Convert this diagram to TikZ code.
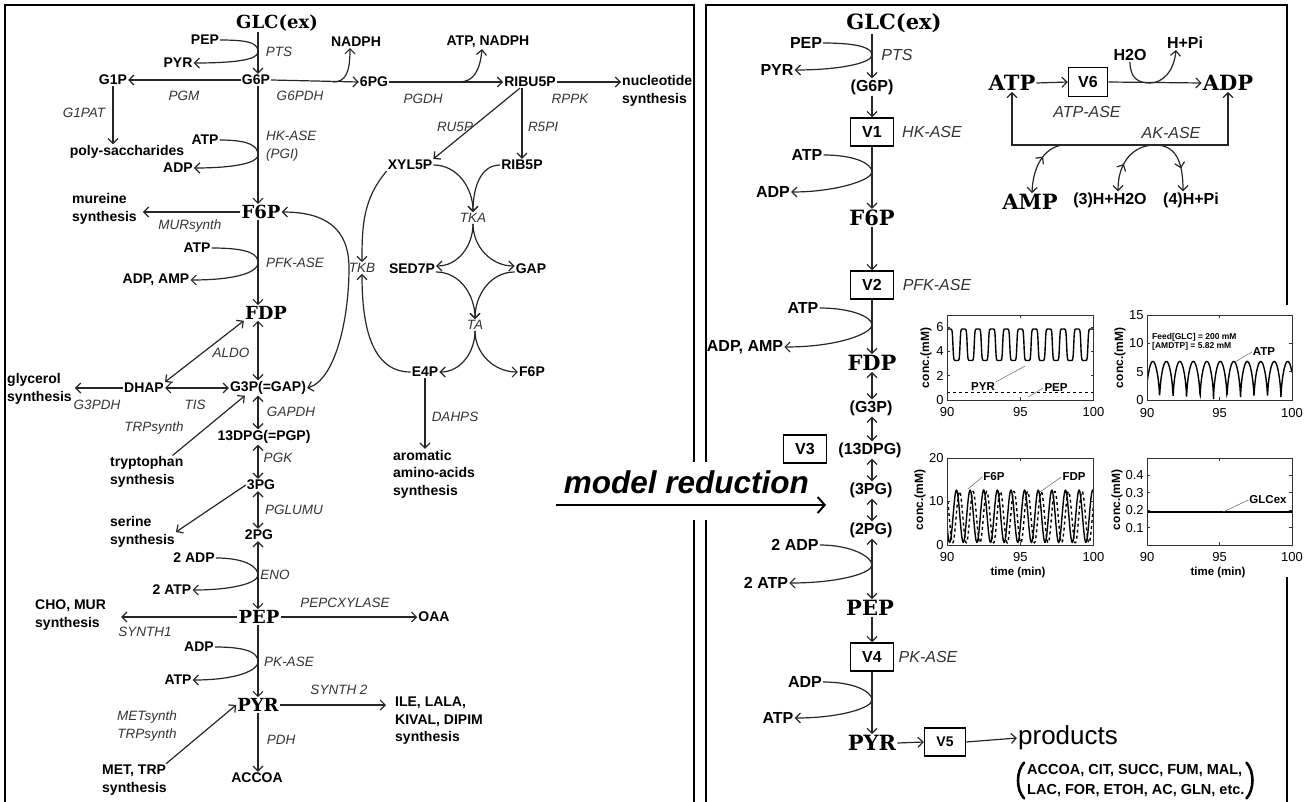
\documentclass[tikz,border=0pt]{standalone}
\usepackage{fontspec}
\setmainfont{Liberation Sans}
\newfontfamily\slab{DejaVu Serif}
\usetikzlibrary{arrows.meta,decorations.markings}
\tikzset{
 ln/.style={line width=1.2pt, draw=black!85},
 arr/.style={ln, -{Straight Barb[length=5pt,width=10pt]}},
 darr/.style={ln, {Straight Barb[length=5pt,width=10pt]}-{Straight Barb[length=5pt,width=10pt]}},
 lb/.style={font=\fontsize{14}{17.5}\selectfont\bfseries, inner sep=1pt, align=center},
 en/.style={font=\fontsize{13.5}{17.5}\selectfont\itshape, text=black!80, inner sep=1pt, align=left},
 big/.style={font=\fontsize{18}{20}\selectfont\slab\bfseries, inner sep=1pt},
 rlb/.style={font=\fontsize{16}{19}\selectfont\bfseries, inner sep=1pt},
 ren/.style={font=\fontsize{16}{19}\selectfont\itshape, text=black!80, inner sep=1pt},
 rbig/.style={font=\fontsize{21}{24}\selectfont\slab\bfseries, inner sep=1pt},
 vbox/.style={draw, line width=1.5pt, font=\fontsize{16}{19}\selectfont\bfseries, minimum width=43pt, minimum height=28pt, inner sep=0pt},
 frame/.style={line width=2pt},
 axis/.style={line width=0.7pt, draw=black!80},
 curve/.style={line width=1.4pt},
 tk/.style={font=\fontsize{13}{15}\selectfont, inner sep=1pt},
 yl/.style={font=\fontsize{12}{14}\selectfont\bfseries, inner sep=1pt, rotate=90},
 pl/.style={font=\fontsize{11.5}{13}\selectfont\bfseries, inner sep=1pt},
 pll/.style={line width=0.5pt, draw=black!60},
 plst/.style={font=\fontsize{14.5}{16}\selectfont\bfseries, inner sep=0pt, anchor=west},
 parenline/.style={line width=2.6pt, line cap=round},
}
\begin{document}
\begin{tikzpicture}[x=1pt,y=-1pt]
\useasboundingbox (0,0) rectangle (1311,802);
% ---------- frames
\draw[frame] (5,802) -- (5,5) -- (694,5) -- (694,462);
\draw[frame] (694,520) -- (694,802);
\draw[frame] (706,462) -- (706,5) -- (1287,5) -- (1287,305);
\draw[frame] (706,520) -- (706,802);
\draw[frame] (1287,577) -- (1287,802);

% ================= LEFT PANEL =================
\coordinate (cl) at (258,0);
\node[big] (glc1) at (277,23) {GLC(ex)};
\node[lb] (pep1) at (205,40) {PEP};
\node[lb] (pyr1) at (178,63) {PYR};
\node[en] (pts1) at (279,52) {PTS};
\node[lb] (g6p) at (256,80) {G6P};
\node[lb] (g1p) at (113,80) {G1P};
\node[en] (pgm) at (184,96) {PGM};
\node[en] (g6pdh) at (300,96) {G6PDH};
\node[lb] (nadph1) at (356,42) {NADPH};
\node[lb] (pg6) at (374,82) {6PG};
\node[lb] (atpnadph) at (488,42) {ATP, NADPH};
\node[en] (pgdh) at (423,99) {PGDH};
\node[lb] (ribu) at (530,82) {RIBU5P};
\node[en] (rppk) at (570,99) {RPPK};
\node[lb, align=left, anchor=west] (nucl) at (621,91) {nucleotide\\synthesis};
\node[en] (ru5p) at (455,127) {RU5P};
\node[en] (r5pi) at (543,127) {R5PI};
\node[lb] (xyl) at (410,165) {XYL5P};
\node[lb] (rib) at (522,165) {RIB5P};
\node[en] (tka) at (473,218) {TKA};
\node[en] (tkb) at (362,268) {TKB};
\node[lb] (sed) at (412,269) {SED7P};
\node[lb] (gapr) at (531,269) {GAP};
\node[en] (ta) at (475,325) {TA};
\node[lb] (e4p) at (425,372) {E4P};
\node[lb] (f6pr) at (532,372) {F6P};
\node[en] (dahps) at (455,417) {DAHPS};
\node[lb, align=left, anchor=west] (arom) at (392,474) {aromatic\\amino-acids\\synthesis};

\node[en] (g1pat) at (84,113) {G1PAT};
\node[lb] (poly) at (127,152) {poly-saccharides};
\node[lb] (atp1) at (205,140) {ATP};
\node[lb] (adp1) at (178,168) {ADP};
\node[en, anchor=west] (hkase) at (265,146) {HK-ASE\\(PGI)};
\node[lb, align=left, anchor=west] (mur) at (71,209) {mureine\\synthesis};
\node[en] (mursynth) at (190,226) {MURsynth};
\node[big] (f6p) at (261,212) {F6P};
\node[lb] (atp2) at (197,248) {ATP};
\node[lb] (adpamp) at (156,280) {ADP, AMP};
\node[en] (pfk) at (295,263) {PFK-ASE};
\node[big] (fdp) at (266,313) {FDP};
\node[en] (aldo) at (231,353) {ALDO};
\node[lb, align=left, anchor=west] (glyc) at (6,389) {glycerol\\synthesis};
\node[lb] (dhap) at (144,388) {DHAP};
\node[en] (g3pdh) at (97,405) {G3PDH};
\node[en] (tis) at (195,405) {TIS};
\node[lb] (g3p) at (268,388) {G3P(=GAP)};
\node[en] (gapdh) at (291,412) {GAPDH};
\node[en] (trpsynth) at (154,428) {TRPsynth};
\node[lb, align=left, anchor=west] (tryp) at (109,472) {tryptophan\\synthesis};
\node[lb] (dpg) at (264,437) {13DPG(=PGP)};
\node[en] (pgk) at (278,458) {PGK};
\node[lb] (pg3) at (261,485) {3PG};
\node[lb, align=left, anchor=west] (ser) at (109,532) {serine\\synthesis};
\node[en] (pglumu) at (294,510) {PGLUMU};
\node[lb] (pg2) at (259,535) {2PG};
\node[lb] (adp2) at (194,558) {2 ADP};
\node[lb] (atp3) at (172,590) {2 ATP};
\node[en] (eno) at (275,575) {ENO};
\node[big] (pep) at (259,617) {PEP};
\node[lb, align=left, anchor=west] (cho) at (34,615) {CHO, MUR\\synthesis};
\node[en] (synth1) at (145,632) {SYNTH1};
\node[en] (pepc) at (345,603) {PEPCXYLASE};
\node[lb] (oaa) at (434,617) {OAA};
\node[lb] (adp3) at (199,647) {ADP};
\node[lb] (atp4) at (178,680) {ATP};
\node[en] (pkase) at (289,662) {PK-ASE};
\node[big] (pyr) at (258,705) {PYR};
\node[en] (synth2) at (339,690) {SYNTH 2};
\node[lb, align=left, anchor=west] (ile) at (394,721) {ILE, LALA,\\KIVAL, DIPIM\\synthesis};
\node[en] (pdh) at (281,740) {PDH};
\node[lb] (accoa) at (257,778) {ACCOA};
\node[lb, align=left, anchor=west] (met) at (101,780) {MET, TRP\\synthesis};
\node[en, align=center] (metsynth) at (147,726) {METsynth\\TRPsynth};

% left edges
\draw[arr] (glc1.south -| cl) -- (g6p.north -| cl);
\draw[arr] (pep1.east) .. controls +(32,0) and +(0,-8) .. (258,52) .. controls +(0,8) and +(40,0) .. (pyr1.east);
\draw[arr] (g6p.west) -- (g1p.east);
\draw[arr] (g6p.east) -- (pg6.west);
\coordinate (b1) at (333,82);
\draw[arr] (b1) .. controls (346,82) and (350,72) .. ([xshift=-6pt]nadph1.south);
\draw[arr] (pg6.east) -- (ribu.west);
\coordinate (b2) at (459,82);
\draw[arr] (b2) .. controls (474,82) and (480,70) .. ([xshift=-6pt]atpnadph.south);
\draw[arr] (ribu.east) -- (ribu.east -| nucl.west);
\draw[arr] ([xshift=-10pt]ribu.south) -- (xyl.north east);
\draw[arr] (ribu.south -| rib.north) -- (rib.north);
\draw[arr] (xyl.east) to[out=0,in=90] (tka.north);
\draw[arr] (rib.west) to[out=180,in=90] (tka.north);
\draw[arr] (tka.south) to[out=-90,in=0] ([yshift=3pt]sed.east);
\draw[arr] (tka.south) to[out=-90,in=180] ([yshift=3pt]gapr.west);
\draw[arr] ([yshift=-3pt]sed.east) to[out=0,in=90] (ta.north);
\draw[arr] ([yshift=-3pt]gapr.west) to[out=180,in=90] (ta.north);
\draw[arr] (ta.south) to[out=-90,in=0] (e4p.east);
\draw[arr] (ta.south) to[out=-90,in=180] (f6pr.west);
\draw[arr] (e4p.south) -- (e4p.south |- arom.north);
\draw[arr] (e4p.west) to[out=180,in=-90] (tkb.south);
\draw[arr] (xyl.south west) to[out=-130,in=90] (tkb.north);
\draw[darr] (f6p.east) .. controls (325,212) and (349,228) .. (349,268) .. controls (349,320) and (335,380) .. (g3p.east);

\draw[arr] (g6p.south -| cl) -- (f6p.north -| cl);
\draw[arr] (atp1.east) .. controls +(32,0) and +(0,-8) .. (258,155) .. controls +(0,8) and +(40,0) .. (adp1.east);
\draw[arr] (g1p.south) -- (g1p.south |- poly.north);
\draw[arr] (f6p.west) -- ([xshift=5pt]f6p.west -| mur.east);
\draw[arr] (f6p.south -| cl) -- (fdp.north -| cl);
\draw[arr] (atp2.east) .. controls +(40,0) and +(0,-8) .. (258,263) .. controls +(0,8) and +(50,0) .. (adpamp.east);
\draw[darr] (fdp.south -| cl) -- (g3p.north -| cl);
\draw[darr] (dhap.north east) -- (fdp.south west);
\draw[arr] (dhap.west) -- ([xshift=2pt]dhap.west -| glyc.east);
\draw[darr] (dhap.east) -- (g3p.west);
\draw[darr] (g3p.south -| cl) -- (dpg.north -| cl);
\draw[arr] ([xshift=-12pt]tryp.north east) -- ([xshift=16pt]g3p.south west);
\draw[darr] (dpg.south -| cl) -- (pg3.north -| cl);
\draw[arr] (pg3.west) -- (ser.east);
\draw[darr] (pg3.south -| cl) -- (pg2.north -| cl);
\draw[darr] (pg2.south -| cl) -- (pep.north -| cl);
\draw[arr] (adp2.east) .. controls +(30,0) and +(0,-8) .. (258,575) .. controls +(0,8) and +(40,0) .. (atp3.east);
\draw[arr] (pep.west) -- ([xshift=14pt]pep.west -| cho.east);
\draw[arr] (pep.east) -- (oaa.west);
\draw[arr] (pep.south -| cl) -- (pyr.north -| cl);
\draw[arr] (adp3.east) .. controls +(36,0) and +(0,-8) .. (258,662) .. controls +(0,8) and +(45,0) .. (atp4.east);
\draw[arr] (pyr.east) -- ([xshift=-8pt]pyr.east -| ile.west);
\draw[arr] (pyr.south -| cl) -- (accoa.north -| cl);
\draw[arr] ([xshift=-2pt]met.north east) -- (pyr.west);

% ================= RIGHT PANEL =================
\coordinate (cr) at (872,0);
\node[rbig] (glc2) at (894,23) {GLC(ex)};
\node[rlb] (pep2) at (806,43) {PEP};
\node[rlb] (pyr2) at (777,70) {PYR};
\node[ren] (pts2) at (897,55) {PTS};
\node[rlb] (g6p2) at (872,87) {(G6P)};
\node[vbox] (v1) at (872,132) {V1};
\node[ren] (hk2) at (932,132) {HK-ASE};
\node[rlb] (atp5) at (807,155) {ATP};
\node[rlb] (adp5) at (773,192) {ADP};
\node[rbig] (f6p2) at (872,218) {F6P};
\node[vbox] (v2) at (872,285) {V2};
\node[ren] (pfk2) at (937,285) {PFK-ASE};
\node[rlb] (atp6) at (803,308) {ATP};
\node[rlb] (adpamp2) at (745,347) {ADP, AMP};
\node[rbig] (fdp2) at (872,363) {FDP};
\node[rlb] (g3p2) at (871,408) {(G3P)};
\node[rlb] (dpg2) at (870,450) {(13DPG)};
\node[vbox] (v3) at (805,449) {V3};
\node[rlb] (pg32) at (871,490) {(3PG)};
\node[rlb] (pg22) at (871,530) {(2PG)};
\node[rlb] (adp7) at (795,545) {2 ADP};
\node[rlb] (atp7) at (766,583) {2 ATP};
\node[rbig] (pep3) at (870,608) {PEP};
\node[vbox] (v4) at (872,657) {V4};
\node[ren] (pk2) at (928,657) {PK-ASE};
\node[rlb] (adp8) at (805,682) {ADP};
\node[rlb] (atp8) at (778,718) {ATP};
\node[rbig] (pyr3) at (872,743) {PYR};
\node[vbox, minimum width=41pt, font=\fontsize{14}{16}\selectfont\bfseries] (v5) at (945,742) {V5};
\node[font=\fontsize{26}{28}\selectfont, inner sep=1pt] (prod) at (1068,738) {products};
\node[plst] (plist1) at (1027,771) {ACCOA, CIT, SUCC, FUM, MAL,};
\node[plst] (plist2) at (1027,791) {LAC, FOR, ETOH, AC, GLN, etc.};
\draw[parenline] ([xshift=-3pt,yshift=2pt]plist1.north west) .. controls +(-8,9) and +(-8,-9) .. ([xshift=-3pt,yshift=-1pt]plist2.south west);
\draw[parenline] ([xshift=4pt,yshift=2pt]plist1.north east) .. controls +(8,9) and +(8,-9) .. ([xshift=4pt,yshift=-1pt]plist1.east |- plist2.south);

\draw[arr] (glc2.south -| cr) -- (g6p2.north -| cr);
\draw[arr] (pep2.east) .. controls +(32,0) and +(0,-8) .. (872,55) .. controls +(0,8) and +(45,0) .. (pyr2.east);
\draw[arr] (g6p2.south -| cr) -- (v1.north);
\draw[arr] (v1.south) -- (f6p2.north -| cr);
\draw[arr] (atp5.east) .. controls +(32,0) and +(0,-8) .. (872,172) .. controls +(0,8) and +(45,0) .. (adp5.east);
\draw[arr] (f6p2.south -| cr) -- (v2.north);
\draw[arr] (v2.south) -- (fdp2.north -| cr);
\draw[arr] (atp6.east) .. controls +(32,0) and +(0,-8) .. (872,325) .. controls +(0,8) and +(55,0) .. (adpamp2.east);
\draw[darr] (fdp2.south -| cr) -- (g3p2.north -| cr);
\draw[darr] (g3p2.south -| cr) -- (dpg2.north -| cr);
\draw[darr] (dpg2.south -| cr) -- (pg32.north -| cr);
\draw[darr] (pg32.south -| cr) -- (pg22.north -| cr);
\draw[darr] (pg22.south -| cr) -- (pep3.north -| cr);
\draw[arr] (adp7.east) .. controls +(32,0) and +(0,-8) .. (872,565) .. controls +(0,8) and +(50,0) .. (atp7.east);
\draw[arr] (pep3.south -| cr) -- (v4.north);
\draw[arr] (v4.south) -- (pyr3.north -| cr);
\draw[arr] (adp8.east) .. controls +(32,0) and +(0,-8) .. (872,700) .. controls +(0,8) and +(45,0) .. (atp8.east);
\draw[arr] (pyr3.east) -- (v5.west);
\draw[arr] (v5.east) -- (prod.west);

% ATP / ADP cycle
\node[rbig] (atpc) at (1012,83) {ATP};
\node[vbox, minimum width=39pt, minimum height=29pt] (v6) at (1088,82) {V6};
\node[rbig] (adpc) at (1228,83) {ADP};
\node[rlb] (h2o) at (1130,55) {H2O};
\node[rlb] (hpi) at (1185,43) {H+Pi};
\node[ren] (atpase) at (1087,112) {ATP-ASE};
\node[ren] (akase) at (1171,133) {AK-ASE};
\node[rbig] (amp) at (1030,202) {AMP};
\node[rlb] (h3) at (1110,200) {(3)H+H2O};
\node[rlb] (h4) at (1191,200) {(4)H+Pi};
\draw[arr] (atpc.east) -- (v6.west);
\draw[arr] (v6.east) -- (adpc.west);
\draw[arr] (h2o.south) .. controls (1130,78) and (1138,83) .. (1150,83) .. controls (1162,83) and (1174,72) .. ([xshift=-9pt]hpi.south);
\coordinate (ak) at (0,145);
\draw[darr] (atpc.south) -- (atpc.south |- ak) -- (adpc.south |- ak) -- (adpc.south);
\draw[ln, {Straight Barb[length=5pt,width=10pt]}-,
  postaction={decorate, decoration={markings, mark=at position 0.62 with {\arrow{Straight Barb[length=5pt,width=10pt]}}}}]
  ([xshift=2pt]amp.north) .. controls (1033,165) and (1045,147) .. (1063,145);
\draw[darr, postaction={decorate, decoration={markings,
   mark=at position 0.22 with {\arrow{Straight Barb[length=5pt,width=10pt]}},
   mark=at position 0.82 with {\arrow{Straight Barb[length=5pt,width=10pt]}}}}]
  ([xshift=8pt]h3.north) .. controls (1118,160) and (1135,145) .. (1155,145) .. controls (1175,145) and (1183,160) .. ([xshift=-8pt]h4.north);

% ================= PLOTS =================
% plot 1
\begin{scope}[shift={(947,400)},x=14.65pt,y=12.14pt]
 \fill[white] (-3,-1.8) rectangle (10.3,7.2);
 \begin{scope}
  \clip (0,0) rectangle (10,7);
  \draw[curve] plot[domain=0:10,samples=500] (\x,{4.55+1.3*tanh(3.5*sin(360*\x/0.97+30))});
  \draw[curve,dashed] (0,0.6) -- (10,0.6);
 \end{scope}
 \draw[axis] (0,0) rectangle (10,7);
 \foreach \t/\l [count=\i] in {0/90,5/95,10/100} {
   \draw[axis] (\t,0) -- ++(0pt,3pt) (\t,7) -- ++(0pt,-3pt);
   \node[tk,anchor=north] (pa\i) at (\t,-0.55) {\l};
 }
 \foreach \v [count=\i] in {0,2,4,6} {
   \draw[axis] (0,\v) -- ++(3pt,0pt) (10,\v) -- ++(-3pt,0pt);
   \node[tk,anchor=east] (pb\i) at (-0.15,\v) {\v};
 }
\end{scope}
\node[yl] (yl1) at (926,358) {conc.(mM)};
\node[pl] (pyrl) at (983,387) {PYR};
\draw[pll] (pyrl.north east) -- (1025,366);
\node[pl] (pepl) at (1056,388) {PEP};
\draw[pll] (pepl.west) -- (1028,397);

% plot 2
\begin{scope}[shift={(1147,400)},x=14.5pt,y=5.67pt]
 \fill[white] (-2.6,-3.8) rectangle (10.3,15.4);
 \begin{scope}
  \clip (0,0) rectangle (10,15);
  \draw[curve] plot[domain=0:10,samples=500] (\x,{6.8*pow(abs(sin(180*\x/0.93+12))+0.0001,0.55)});
 \end{scope}
 \draw[axis] (0,0) rectangle (10,15);
 \foreach \t/\l [count=\i] in {0/90,5/95,10/100} {
   \draw[axis] (\t,0) -- ++(0pt,3pt) (\t,15) -- ++(0pt,-3pt);
   \node[tk,anchor=north] (pc\i) at (\t,-1.2) {\l};
 }
 \foreach \v [count=\i] in {0,5,10,15} {
   \draw[axis] (0,\v) -- ++(3pt,0pt) (10,\v) -- ++(-3pt,0pt);
   \node[tk,anchor=east] (pd\i) at (-0.15,\v) {\v};
 }
\end{scope}
\node[yl] (yl2) at (1120,358) {conc.(mM)};
\node[font=\fontsize{8.5}{10}\selectfont\bfseries, inner sep=0pt, anchor=west, align=left] (feed) at (1152,342) {Feed[GLC] = 200 mM\\[-1pt][AMDTP] = 5.82 mM};
\node[pl] (atpl) at (1264,352) {ATP};
\draw[pll] (atpl.west) -- (1235,362);

% plot 3
\begin{scope}[shift={(947,545)},x=14.65pt,y=4.35pt]
 \fill[white] (-3,-7.5) rectangle (10.3,20.3);
 \begin{scope}
  \clip (0,0) rectangle (10,20);
  \draw[curve,dashed] plot[domain=0:10,samples=400] (\x,{6.4+5.9*sin(360*\x/0.93+120)});
  \draw[curve] plot[domain=0:10,samples=400] (\x,{6.6+6*sin(360*\x/0.93+200)});
 \end{scope}
 \draw[axis] (0,0) rectangle (10,20);
 \foreach \t/\l [count=\i] in {0/90,5/95,10/100} {
   \draw[axis] (\t,0) -- ++(0pt,3pt) (\t,20) -- ++(0pt,-3pt);
   \node[tk,anchor=north] (pe\i) at (\t,-1.5) {\l};
 }
 \foreach \v [count=\i] in {0,10,20} {
   \draw[axis] (0,\v) -- ++(3pt,0pt) (10,\v) -- ++(-3pt,0pt);
   \node[tk,anchor=east] (pf\i) at (-0.15,\v) {\v};
 }
\end{scope}
\node[pl] (time1) at (1018,573) {time (min)};
\node[yl] (yl3) at (920,500) {conc.(mM)};
\node[pl] (f6pl) at (994,477) {F6P};
\draw[pll] (f6pl.west) -- (968,489);
\node[pl] (fdpl) at (1074,477) {FDP};
\draw[pll] (fdpl.west) -- (1040,492);

% plot 4
\begin{scope}[shift={(1147,545)},x=14.5pt,y=174pt]
 \fill[white] (-2.6,-0.17) rectangle (10.3,0.505);
 \draw[curve] (0,0.19) -- (10,0.19);
 \draw[axis] (0,0) rectangle (10,0.5);
 \foreach \t/\l [count=\i] in {0/90,5/95,10/100} {
   \draw[axis] (\t,0) -- ++(0pt,3pt) (\t,0.5) -- ++(0pt,-3pt);
   \node[tk,anchor=north] (pg\i) at (\t,-0.035) {\l};
 }
 \foreach \v [count=\i] in {0.1,0.2,0.3,0.4} {
   \draw[axis] (0,\v) -- ++(3pt,0pt) (10,\v) -- ++(-3pt,0pt);
   \node[tk,anchor=east] (ph\i) at (-0.15,\v) {\v};
 }
\end{scope}
\node[pl] (time2) at (1218,573) {time (min)};
\node[yl] (yl4) at (1117,500) {conc.(mM)};
\node[pl] (glcl) at (1268,500) {GLCex};
\draw[pll] (glcl.west) -- (1223,512);

% ================= model reduction =================
\node[font=\fontsize{31.5}{33}\selectfont\bfseries\itshape, inner sep=1pt, anchor=east] (mr) at (810,482) {model reduction};
\coordinate (mra) at (556,505);
\coordinate (mrb) at (826,505);
\draw[line width=2pt, -{Straight Barb[length=7pt,width=16pt]}] (mra) -- (mrb);
\end{tikzpicture}
\end{document}
